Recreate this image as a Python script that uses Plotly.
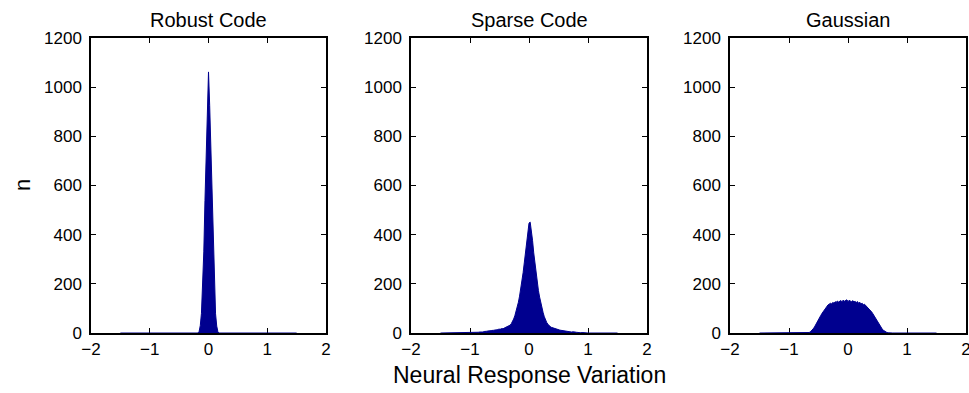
import numpy as np
import plotly.graph_objects as go

# ---- data ----
titles = ["Robust Code", "Sparse Code", "Gaussian"]
bin_width = 0.02
hist_min, hist_max = -1.5, 1.5

# Robust code: bins from -0.16 to 0.16
robust_start = -0.16
robust_counts = [6, 30, 80, 180, 330, 540, 750, 930, 1062, 925, 745, 535, 325, 175, 78, 28, 5]

# Sparse code: bins from -1.00 to 1.00
sparse_start = -1.00
sparse_counts_left = [1, 0, 2, 1, 2, 3, 2, 3, 4, 3, 5, 4, 6, 5, 7, 8, 7, 9, 10, 9, 11, 12, 11,
                      13, 15, 14, 16, 18, 17, 20, 22, 23, 26, 28, 32, 38, 46, 57, 70, 86, 104,
                      125, 150, 178, 210, 245, 285, 330, 380, 420, 447]
sparse_counts_right = [451, 418, 377, 326, 281, 240, 205, 172, 146, 121, 100, 82, 66, 53, 43, 36,
                       30, 26, 23, 21, 19, 17, 16, 14, 13, 12, 11, 10, 9, 8, 8, 7, 6, 6, 5, 4, 5,
                       3, 4, 3, 2, 3, 2, 1, 2, 1, 1, 0, 1, 0]
sparse_counts = sparse_counts_left + sparse_counts_right

# Gaussian: bins from -0.66 to 0.68
gauss_start = -0.66
gauss_counts = [2, 4, 8, 14, 20, 28, 38, 48, 56, 64, 72, 80, 88, 95, 102, 108, 114, 117, 121, 118,
                124, 122, 127, 125, 130, 126, 128, 132, 127, 134, 129, 131, 135, 128, 133, 130,
                127, 132, 126, 129, 124, 128, 121, 125, 118, 121, 115, 117, 112, 108, 104, 99,
                93, 86, 79, 71, 63, 54, 45, 37, 29, 22, 16, 11, 7, 4, 2, 1]

x_ticks = [-2, -1, 0, 1, 2]
x_ticktext = ["\u22122", "\u22121", "0", "1", "2"]
y_ticks = [0, 200, 400, 600, 800, 1000, 1200]
x_label = "Neural Response Variation"
y_label = "n"

# ---- build full histograms over [-1.5, 1.5] ----
n_bins = int(round((hist_max - hist_min) / bin_width)) + 1
centers = np.round(hist_min + bin_width * np.arange(n_bins), 2)

def full_hist(start, counts):
    y = np.zeros(n_bins)
    i0 = int(round((start - hist_min) / bin_width))
    y[i0:i0 + len(counts)] = counts
    return y

series = [full_hist(robust_start, robust_counts),
          full_hist(sparse_start, sparse_counts),
          full_hist(gauss_start, gauss_counts)]

W, H = 969, 393
FONT = "Liberation Sans, Arial, Helvetica, sans-serif"
BAR = "#00008F"

x_px = [(91, 326), (411, 647), (730, 966)]
y_px = (38, 333)

fig = go.Figure()
for i, y in enumerate(series):
    fig.add_trace(go.Scatter(
        x=centers, y=y, mode="lines", line=dict(shape="linear", color=BAR, width=1),
        fill="tozeroy", fillcolor=BAR, cliponaxis=False, showlegend=False,
        hoverinfo="skip", xaxis=f"x{i+1}" if i else "x", yaxis=f"y{i+1}" if i else "y"))

layout = dict(width=W, height=H, margin=dict(l=0, r=0, t=0, b=0, autoexpand=False),
              paper_bgcolor="white", plot_bgcolor="white",
              font=dict(family=FONT, size=17, color="black"))
ydom = [(H - y_px[1]) / H, (H - y_px[0]) / H]
for i, (a, b) in enumerate(x_px):
    sfx = str(i + 1) if i else ""
    layout["xaxis" + sfx] = dict(
        domain=[a / W, b / W], range=[-2, 2], tickvals=x_ticks, ticktext=x_ticktext,
        ticks="inside", ticklen=5, tickcolor="black", showline=True, linecolor="black",
        linewidth=1.5, mirror="ticks", showgrid=False, zeroline=False, layer="below traces",
        anchor="y" + sfx, fixedrange=True, tickfont=dict(size=17), automargin=False,
        ticklabeloverflow="allow")
    layout["yaxis" + sfx] = dict(
        domain=ydom, range=[0, 1200], tickvals=y_ticks,
        ticks="inside", ticklen=5, tickcolor="black", showline=True, linecolor="black",
        linewidth=1.5, mirror="ticks", showgrid=False, zeroline=False, layer="below traces",
        anchor="x" + sfx, fixedrange=True, tickfont=dict(size=17), ticklabelstandoff=4,
        automargin=False)
fig.update_layout(**layout)

ann = []
for i, (a, b) in enumerate(x_px):
    ann.append(dict(text=titles[i], x=(a + b) / 2 / W, y=(H - 20) / H, xref="paper", yref="paper",
                    showarrow=False, xanchor="center", yanchor="middle", font=dict(size=20)))
ann.append(dict(text=x_label, x=529 / W, y=(H - 375) / H, xref="paper", yref="paper",
                showarrow=False, xanchor="center", yanchor="middle", font=dict(size=23)))
ann.append(dict(text=y_label, x=22 / W, y=(H - 185) / H, xref="paper", yref="paper",
                showarrow=False, xanchor="center", yanchor="middle", textangle=-90,
                font=dict(size=22)))
fig.update_layout(annotations=ann)

fig.write_html("out.html", config=dict(displayModeBar=False),
               post_script="document.body.style.margin='0px';document.body.style.overflow='hidden';")
